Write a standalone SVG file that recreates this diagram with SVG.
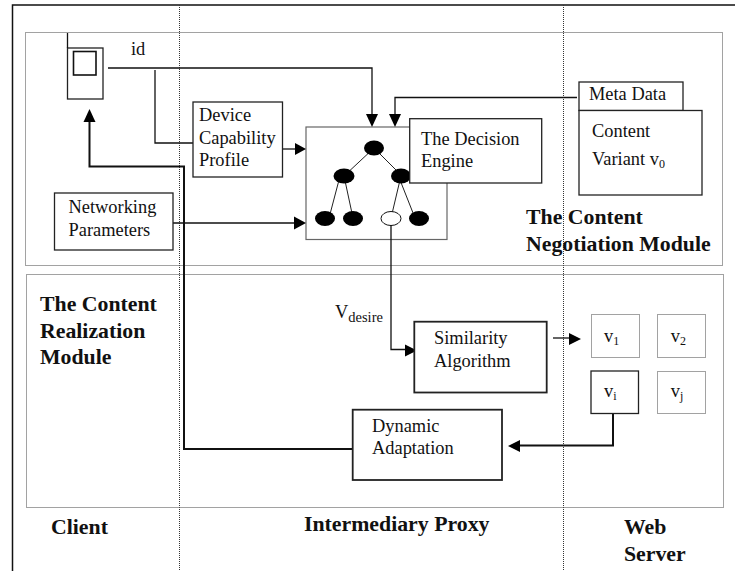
<svg xmlns="http://www.w3.org/2000/svg" width="735" height="571" viewBox="0 0 735 571">
<style>
text{font-family:"Liberation Serif","Times New Roman",serif;font-size:18.4px;fill:#111}
.b{font-weight:bold;font-size:21.8px}
.sub{font-size:12px}
.box{fill:#fff;stroke:#222;stroke-width:1.3}
.dot{fill:none;stroke:#444;stroke-width:1;stroke-dasharray:1 1}
.div{fill:none;stroke:#333;stroke-width:1;stroke-dasharray:1 1}
.c{fill:none;stroke:#111;stroke-width:1.3}
.t{fill:none;stroke:#111;stroke-width:2}
.e{stroke:#222;stroke-width:1;fill:none}
.n{fill:#000}
.h{fill:#000}
</style>
<rect width="735" height="571" fill="#fff"/>
<g id="frame">
<path d="M735 5H12.500V571" fill="none" stroke="#111" stroke-width="1.500"/>
<path class="div" d="M179.500 5V571M563.500 5V571"/>
<rect class="dot" x="25.500" y="32.500" width="697" height="233"/>
<rect class="dot" x="26.500" y="274.500" width="697" height="233"/>
</g>
<g id="decision-tree">
<rect x="306" y="127" width="141" height="112.500" fill="#fff" stroke="#666" stroke-width="1.200"/>
<path class="e" d="M374 148L344 176M374 148L402 176M339 180L329 218M344 176L353 218M400 180L391 218M400 180L415 218"/>
<ellipse class="n" cx="374" cy="148" rx="10" ry="7.500"/>
<ellipse class="n" cx="344" cy="176" rx="10.500" ry="7.500"/>
<ellipse class="n" cx="401" cy="176" rx="10" ry="7.500"/>
<ellipse class="n" cx="325" cy="218.500" rx="10" ry="7.500"/>
<ellipse class="n" cx="353" cy="218.500" rx="10" ry="7.500"/>
<ellipse cx="391" cy="218.500" rx="10" ry="7" fill="#fff" stroke="#111" stroke-width="1"/>
<ellipse class="n" cx="419" cy="218.500" rx="10" ry="7.500"/>
</g>
<g id="connectors">
<path class="c" d="M108 68H372V115"/>
<path class="h" d="M372 127l-6-13h12z"/>
<path class="c" d="M155 70V143H193"/>
<path class="c" d="M283 149H297"/>
<path class="h" d="M306 149l-11-6v12z"/>
<path class="c" d="M173 223H295"/>
<path class="h" d="M306 223l-12-6.500v13z"/>
<path class="c" d="M577 97.500H395V115"/>
<path class="h" d="M395 127l-6-13h12z"/>
<path class="t" d="M353 449H184V166.500H89.500V120"/>
<path class="h" d="M89.500 109l-6 13h12z"/>
<path class="c" d="M391 225V349.500H408"/>
<path class="h" d="M417 350.500l-12-6v12z"/>
<path class="c" d="M553 338H571"/>
<path class="h" d="M581 339l-12-6v12z"/>
<path class="t" d="M613 414V445.500H518"/>
<path class="h" d="M508 446l12-6v12z"/>
</g>
<g id="phone">
<rect class="box" x="67.500" y="48" width="35.500" height="51"/>
<rect x="73.500" y="51.500" width="22.500" height="23.500" fill="#fff" stroke="#111" stroke-width="1.600"/>
<path class="c" d="M67.500 33V48"/>
<text x="131" y="55">id</text>
</g>
<g id="device-capability-profile">
<rect class="box" x="193" y="102" width="89.500" height="75"/>
<text x="199" y="121">Device</text>
<text x="199" y="143.500">Capability</text>
<text x="199" y="166">Profile</text>
</g>
<g id="networking-parameters">
<rect class="box" x="54.500" y="193" width="118.500" height="57"/>
<text x="68.500" y="213">Networking</text>
<text x="68.500" y="236">Parameters</text>
</g>
<g id="decision-engine">
<rect class="box" x="409.700" y="118.700" width="132" height="64.300"/>
<text x="421" y="144.700">The Decision</text>
<text x="421" y="167">Engine</text>
</g>
<g id="meta-data">
<rect class="box" x="579" y="82" width="104" height="28.500"/>
<rect class="box" x="579" y="110.500" width="123" height="84.500"/>
<text x="589" y="100">Meta Data</text>
<text x="592" y="137">Content</text>
<text x="592" y="165">Variant v<tspan class="sub" dy="3">0</tspan></text>
</g>
<g id="negotiation-label">
<text class="b" x="526" y="224">The Content</text>
<text class="b" x="526" y="250.700">Negotiation Module</text>
</g>
<g id="realization-label">
<text class="b" x="40" y="310.700">The Content</text>
<text class="b" x="40" y="337.500">Realization</text>
<text class="b" x="40" y="364">Module</text>
</g>
<g id="v-desire">
<text x="335" y="318" style="font-size:18.4px">V<tspan style="font-size:14.500px" dy="4">desire</tspan></text>
</g>
<g id="similarity-algorithm">
<rect class="box" x="414.300" y="321.700" width="132.400" height="70.800" style="stroke-width:1.800"/>
<text x="434" y="344">Similarity</text>
<text x="434" y="366.700">Algorithm</text>
</g>
<g id="dynamic-adaptation">
<rect class="box" x="352.700" y="409.700" width="149.300" height="70.300" style="stroke-width:1.800"/>
<text x="372" y="431.700">Dynamic</text>
<text x="372" y="454">Adaptation</text>
</g>
<g id="v1"><rect class="dot" x="591.500" y="314.500" width="48" height="43"/><text x="604" y="341.700">v<tspan class="sub" dy="3">1</tspan></text></g>
<g id="v2"><rect class="dot" x="657.500" y="314.500" width="48" height="43"/><text x="670.700" y="341.700">v<tspan class="sub" dy="3">2</tspan></text></g>
<g id="vi"><rect class="box" x="591" y="371" width="47.500" height="42.500"/><text x="604" y="397">v<tspan class="sub" dy="3">i</tspan></text></g>
<g id="vj"><rect class="dot" x="657.500" y="371.500" width="48" height="42"/><text x="670.700" y="397">v<tspan class="sub" dy="3">j</tspan></text></g>
<g id="column-labels">
<text class="b" x="51" y="534">Client</text>
<text class="b" x="304" y="530.700">Intermediary Proxy</text>
<text class="b" x="624" y="534">Web</text>
<text class="b" x="624" y="560.600">Server</text>
</g>
</svg>
